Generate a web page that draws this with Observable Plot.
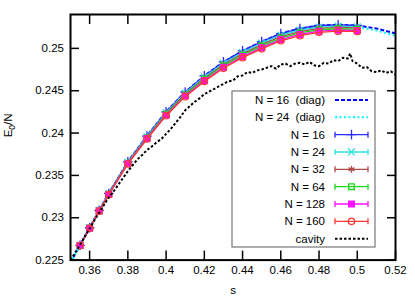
<!DOCTYPE html>
<html><head><meta charset="utf-8">
<script src="https://cdn.jsdelivr.net/npm/d3@7"></script>
<script src="https://cdn.jsdelivr.net/npm/@observablehq/plot@0.6"></script>
<style>
body{margin:0;background:#fff}
#chart{width:415px;height:297px}
</style>
</head><body><div id="chart"></div>
<script>
// ---- data ----
const sVals = [0.355,0.36,0.365,0.37,0.38,0.39,0.40,0.41,0.42,0.43,0.44,0.45,0.46,0.47,0.48,0.49,0.50];
const n16  = [0.22675,0.22882,0.23088,0.23287,0.23660,0.23965,0.24250,0.24485,0.24675,0.24840,0.24970,0.25080,0.25175,0.25235,0.25270,0.25278,0.25270];
const n24  = [0.22674,0.22881,0.23086,0.23284,0.23655,0.23957,0.24240,0.24473,0.24661,0.24824,0.24952,0.25061,0.25156,0.25216,0.25252,0.25262,0.25255];
const n32  = [0.22674,0.22879,0.23084,0.23281,0.23650,0.23950,0.24231,0.24462,0.24648,0.24809,0.24936,0.25044,0.25139,0.25199,0.25236,0.25247,0.25241];
const n64  = [0.22673,0.22878,0.23082,0.23278,0.23645,0.23943,0.24222,0.24451,0.24635,0.24794,0.24920,0.25027,0.25122,0.25182,0.25220,0.25232,0.25227];
const n128 = [0.22672,0.22877,0.23080,0.23274,0.23639,0.23936,0.24212,0.24439,0.24620,0.24777,0.24903,0.25009,0.25104,0.25164,0.25203,0.25215,0.25211];
const n160 = [0.22672,0.22876,0.23078,0.23272,0.23635,0.23930,0.24205,0.24430,0.24610,0.24765,0.24890,0.24995,0.25090,0.25150,0.25190,0.25203,0.25200];

const diagS  = [0.35,0.355,0.36,0.365,0.37,0.38,0.39,0.40,0.41,0.42,0.43,0.44,0.45,0.46,0.47,0.48,0.49,0.50,0.51,0.52];
const diag16 = [0.22470,0.22675,0.22882,0.23088,0.23287,0.23660,0.23965,0.24250,0.24485,0.24675,0.24840,0.24970,0.25080,0.25175,0.25235,0.25270,0.25278,0.25270,0.25235,0.25176];
const diag24 = [0.22469,0.22674,0.22881,0.23086,0.23284,0.23655,0.23957,0.24240,0.24473,0.24661,0.24824,0.24952,0.25061,0.25156,0.25216,0.25252,0.25262,0.25255,0.25212,0.25148];

const cavS = [0.350,0.3525,0.355,0.3575,0.360,0.3625,0.365,0.3675,0.370,0.3725,0.375,0.3775,0.380,0.3825,0.385,0.3875,0.390,0.3925,0.395,0.3975,0.400,0.4025,0.405,0.4075,0.410,0.4125,0.415,0.4175,0.420,0.4225,0.425,0.4275,0.430,0.4325,0.435,0.4375,0.440,0.4425,0.445,0.4475,0.450,0.4525,0.455,0.4575,0.460,0.4625,0.465,0.4675,0.470,0.4725,0.475,0.4775,0.480,0.4825,0.485,0.4875,0.490,0.4925,0.495,0.4963,0.4975,0.500,0.5025,0.505,0.5075,0.510,0.5125,0.515,0.5175,0.520];
const cavE = [0.2250,0.2259,0.2268,0.2278,0.2287,0.2297,0.2306,0.2315,0.2324,0.2331,0.2339,0.2347,0.2355,0.2362,0.2369,0.2374,0.2380,0.2384,0.2389,0.2393,0.2399,0.2405,0.2412,0.2419,0.2427,0.2432,0.2437,0.2441,0.2446,0.2449,0.2452,0.2455,0.2458,0.2461,0.2462,0.2467,0.2468,0.2472,0.2471,0.2474,0.2475,0.2477,0.2479,0.2476,0.2481,0.2482,0.2479,0.2482,0.2483,0.2481,0.2484,0.2480,0.2479,0.2483,0.2482,0.2486,0.2485,0.2489,0.2488,0.2494,0.2485,0.2482,0.2477,0.2478,0.2473,0.2472,0.2474,0.2471,0.2473,0.2469];

const xTicks = [0.36,0.38,0.40,0.42,0.44,0.46,0.48,0.50,0.52];
const yTicks = [0.225,0.23,0.235,0.24,0.245,0.25];
const xLabel = "s";
const yLabelMain = "E", yLabelSub = "0", yLabelTail = "/N";

const simLabels = ["N = 16","N = 24","N = 32","N = 64","N = 128","N = 160"];
const simColors = ["#2a2aff","#30e0e0","#b04848","#18d818","#ff10ff","#ff3838"];
const simSymbols = ["plus","times","asterisk","square","square","circle"];
const simFilled = [false,false,false,false,true,false];
const simValues = [n16,n24,n32,n64,n128,n160];
const diagLabels = ["N = 16  (diag)","N = 24  (diag)"];
const cavLabel = "cavity";

// ---- build tables ----
const diagRows16 = diagS.map((s,i)=>({s, e: diag16[i]}));
const diagRows24 = diagS.map((s,i)=>({s, e: diag24[i]}));
const cavRows = cavS.map((s,i)=>({s, e: cavE[i]}));
const fmt = d => String(+d.toFixed(3));
const FONT = "'Liberation Sans', Arial, Helvetica, sans-serif";

const marks = [
  Plot.line(diagRows16, {x:"s", y:"e", stroke:"#0000ff", strokeWidth:2, strokeDasharray:"4,2", strokeLinecap:"butt", clip:true}),
  Plot.line(diagRows24, {x:"s", y:"e", stroke:"#00ffff", strokeWidth:2, strokeDasharray:"2,2.5", strokeLinecap:"butt", clip:true})
];
simValues.forEach((vals, k) => {
  const rows = sVals.map((s,i)=>({s, e: vals[i]}));
  marks.push(Plot.line(rows, {x:"s", y:"e", stroke: simColors[k], strokeWidth:1.3, clip:true}));
  marks.push(Plot.dot(rows, {x:"s", y:"e", symbol: simSymbols[k], r: 3.2,
    stroke: simColors[k], fill: simFilled[k] ? simColors[k] : "none", strokeWidth:1.3}));
});
marks.push(Plot.line(cavRows, {x:"s", y:"e", stroke:"#000", strokeWidth:2, strokeDasharray:"2.5,2", strokeLinecap:"butt", clip:true}));

marks.push(
  Plot.frame({stroke:"#000", strokeWidth:2}),
  Plot.axisX(xTicks, {anchor:"bottom", tickSize:-9, tickPadding:15, tickFormat: fmt, label:null, strokeWidth:1.5, fontSize:11.5}),
  Plot.axisX(xTicks, {anchor:"top", tickSize:-9, tickFormat: () => "", label:null, strokeWidth:1.5}),
  Plot.axisY(yTicks, {anchor:"left", tickSize:-9, tickPadding:15.5, tickFormat: fmt, label:null, strokeWidth:1.5, fontSize:11.5}),
  Plot.axisY(yTicks, {anchor:"right", tickSize:-9, tickFormat: () => "", label:null, strokeWidth:1.5}),
  Plot.text([xLabel], {frameAnchor:"bottom", dy:30.5, lineAnchor:"middle", fontSize:11.5}),
  Plot.text([yLabelMain + yLabelSub + yLabelTail], {frameAnchor:"left", dx:-62, rotate:-90, lineAnchor:"middle", fontSize:11.5, className:"ylab"})
);

const chart = Plot.plot({
  width:415, height:297,
  marginLeft:70, marginRight:20, marginTop:14, marginBottom:37.4,
  x:{domain:[0.35,0.52]},
  y:{domain:[0.225,0.254]},
  style:{fontFamily:FONT, fontSize:"11.5px", background:"#fff", color:"#000"},
  marks
});

// subscript on y label
d3.select(chart).selectAll(".ylab text").each(function(){
  const t = d3.select(this);
  t.text("");
  t.append("tspan").text(yLabelMain);
  t.append("tspan").attr("font-size","8.5px").attr("dy","3").text(yLabelSub);
  t.append("tspan").attr("dy","-3").text(yLabelTail);
});

// legend (inside plot area)
const svg = d3.select(chart);
const lg = svg.append("g").attr("font-family", FONT).attr("font-size","11.5px");
const LX0 = 232, LY0 = 91, LX1 = 375, LY1 = 247;
lg.append("rect").attr("x",LX0).attr("y",LY0).attr("width",LX1-LX0).attr("height",LY1-LY0)
  .attr("fill","#fff").attr("stroke","#777").attr("stroke-width",1.2);
const rowY = i => 100 + i*17.33;
const textX = 325, sx0 = 335, sx1 = 368, sxc = (sx0+sx1)/2;
function legText(i, label){
  lg.append("text").attr("x",textX).attr("y",rowY(i)).attr("text-anchor","end")
    .attr("dy","0.36em").style("white-space","pre").text(label);
}
legText(0, diagLabels[0]);
lg.append("line").attr("x1",sx0).attr("x2",sx1).attr("y1",rowY(0)).attr("y2",rowY(0))
  .attr("stroke","#0000ff").attr("stroke-width",2).attr("stroke-dasharray","4,2");
legText(1, diagLabels[1]);
lg.append("line").attr("x1",sx0).attr("x2",sx1).attr("y1",rowY(1)).attr("y2",rowY(1))
  .attr("stroke","#00ffff").attr("stroke-width",2).attr("stroke-dasharray","2,2.5");
const symMap = {plus:d3.symbolPlus, times:d3.symbolTimes, asterisk:d3.symbolAsterisk, square:d3.symbolSquare, circle:d3.symbolCircle};
simLabels.forEach((lab,k) => {
  const i = k + 2, y = rowY(i), c = simColors[k];
  legText(i, lab);
  lg.append("line").attr("x1",sx0).attr("x2",sx1).attr("y1",y).attr("y2",y).attr("stroke",c).attr("stroke-width",1.3);
  lg.append("line").attr("x1",sx0).attr("x2",sx0).attr("y1",y-3).attr("y2",y+3).attr("stroke",c).attr("stroke-width",1.3);
  lg.append("line").attr("x1",sx1).attr("x2",sx1).attr("y1",y-3).attr("y2",y+3).attr("stroke",c).attr("stroke-width",1.3);
  lg.append("path").attr("transform",`translate(${sxc},${y})`)
    .attr("d", d3.symbol(symMap[simSymbols[k]], Math.PI*3.2*3.2)())
    .attr("stroke",c).attr("stroke-width",1.3).attr("fill", simFilled[k] ? c : "none");
});
legText(8, cavLabel);
lg.append("line").attr("x1",sx0).attr("x2",sx1).attr("y1",rowY(8)).attr("y2",rowY(8))
  .attr("stroke","#000").attr("stroke-width",2).attr("stroke-dasharray","2.5,2");

document.getElementById("chart").appendChild(chart);
</script>
</body></html>
